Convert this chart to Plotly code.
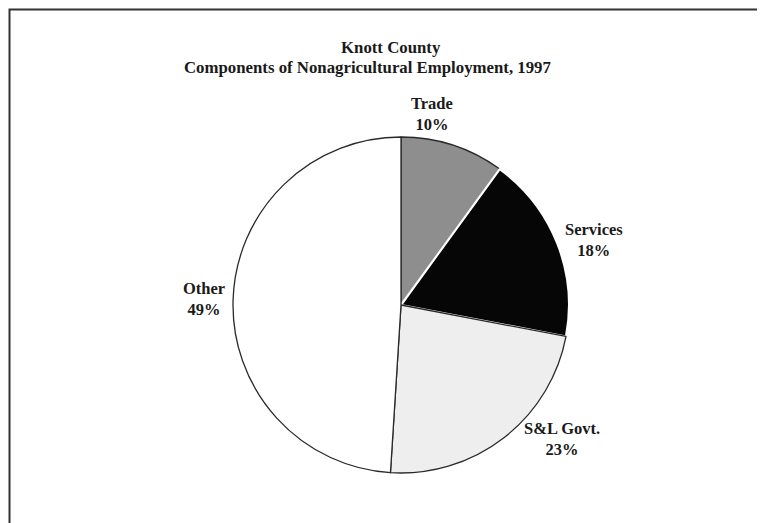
import plotly.graph_objects as go

title_lines = ["Knott County", "Components of Nonagricultural Employment, 1997"]
categories = ["Trade", "Services", "S&L Govt.", "Other"]
shares = [10, 18, 23, 49]
colors = ["#8e8e8e", "#060606", "#eeeeee", "#ffffff"]
edge_colors = ["#2a2a2a", "#ffffff", "#2a2a2a", "#2a2a2a"]

W, H = 765, 523
OFF = 8  # default page body margin of the browser


def px(x):
    return (x - OFF) / W


def py(y):
    return 1 - (y - OFF) / H


# label centre positions in page pixels for each category
label_pos = {
    "Trade": (432, 114),
    "Services": (594, 240),
    "S&L Govt.": (562, 439),
    "Other": (204, 299),
}
title_pos = [(391, 47), (367, 67)]

fig = go.Figure()
fig.add_trace(go.Pie(
    labels=categories,
    values=shares,
    sort=False,
    direction="clockwise",
    rotation=0,
    textinfo="none",
    hoverinfo="label+percent",
    marker=dict(colors=colors, line=dict(color=edge_colors, width=[1.3, 2.2, 1.3, 1.3])),
    domain=dict(x=[px(232), px(570)], y=[py(473), py(137)]),
    showlegend=False,
))

title_font = dict(family="Liberation Serif", size=16.8, color="#1a1a1a")
label_font = dict(family="Liberation Serif", size=16.5, color="#1a1a1a")
annotations = []
for line, (x, y) in zip(title_lines, title_pos):
    annotations.append(dict(text=f"<b>{line}</b>", x=px(x), y=py(y),
                            xref="paper", yref="paper", xanchor="center", yanchor="middle",
                            showarrow=False, font=title_font, align="center"))
for cat, val in zip(categories, shares):
    x, y = label_pos[cat]
    annotations.append(dict(text=f"<b>{cat}<br>{val}%</b>", x=px(x), y=py(y),
                            xref="paper", yref="paper", xanchor="center", yanchor="middle",
                            showarrow=False, font=label_font, align="center"))

fig.update_layout(
    width=W, height=H,
    margin=dict(l=0, r=0, t=0, b=0),
    paper_bgcolor="white",
    plot_bgcolor="white",
    annotations=annotations,
    shapes=[dict(type="rect", xref="paper", yref="paper", x0=px(9.5), x1=1.05,
                 y0=-0.05, y1=py(9.5), line=dict(color="#333333", width=2))],
)

fig.write_html("out.html")
